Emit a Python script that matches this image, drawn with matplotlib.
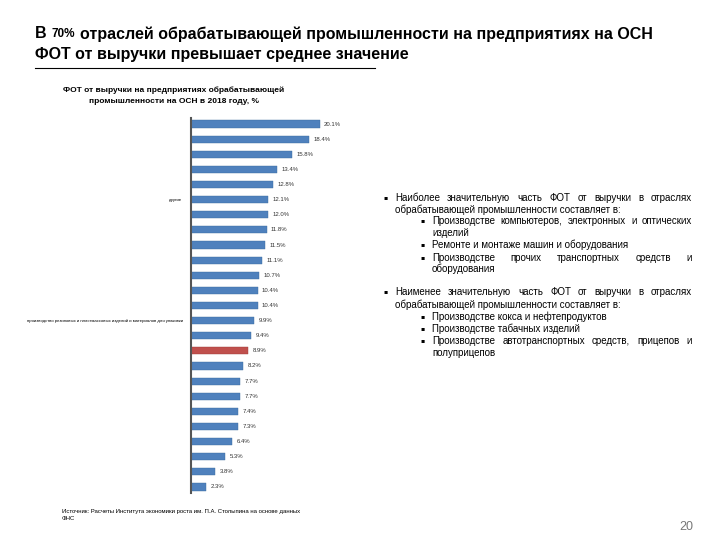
import matplotlib
matplotlib.use("Agg")
import matplotlib.pyplot as plt

# данные
znach = [20.1, 18.4, 15.8, 13.4, 12.8, 12.1, 12.0, 11.8, 11.5, 11.1, 10.7, 10.4,
         10.4, 9.9, 9.4, 8.9, 8.2, 7.7, 7.7, 7.4, 7.3, 6.4, 5.3, 3.8, 2.3]
podpisi = ["%.1f%%" % v for v in znach]
sredn_idx = 15  # среднее значение (красный столбец)
kateg_metki = {5: "другие",
               13: "производство резиновых и пластмассовых изделий и материалов для упаковки"}

plt.rcParams['font.family'] = ['Liberation Sans', 'DejaVu Sans']

fig = plt.figure(figsize=(7.2, 5.4), dpi=100)
fig.canvas.draw()
rend = fig.canvas.get_renderer()

# заголовок слайда
x = 35
for kusok, fs in [("В", 11.5), ("70%", 8.5),
                  ("отраслей обрабатывающей промышленности на предприятиях на ОСН", 11.5)]:
    t = fig.text(x / 720, 1 - 34 / 540, kusok, fontsize=fs, fontweight='bold',
                 va='center', ha='left')
    x += t.get_window_extent(rend).width + 5
fig.text(35 / 720, 1 - 54 / 540, "ФОТ от выручки превышает среднее значение",
         fontsize=11.5, fontweight='bold', va='center', ha='left')
fig.add_artist(plt.Line2D([35 / 720, 375 / 720], [1 - 68 / 540, 1 - 68 / 540],
                          color='black', lw=0.8))

# заголовок диаграммы
fig.text(174 / 720, 1 - 96 / 540,
         "ФОТ от выручки на предприятиях обрабатывающей\nпромышленности на ОСН в 2018 году, %",
         fontsize=6.0, fontweight='bold', ha='center', va='center', linespacing=1.8)

ax = fig.add_axes([191 / 720, 1 - 493 / 540, 160 / 720, 375 / 540])
cvet = ['#4F81BD'] * len(znach)
cvet[sredn_idx] = '#C0504D'
pos = list(range(len(znach)))
ax.barh(pos, znach, height=0.47, color=cvet, edgecolor='#3A6A9E', linewidth=0.3)
ax.patches[sredn_idx].set_edgecolor('#9E3B38')
for p, v, t in zip(pos, znach, podpisi):
    ax.text(v + 0.7, p, t, fontsize=4.3, va='center', ha='left', color='#333333')
ax.set_xlim(0, 25)
ax.set_ylim(24.4, -0.4)
ax.set_xticks([])
ax.set_yticks(list(kateg_metki.keys()))
ax.set_yticklabels(list(kateg_metki.values()), fontsize=3.1)
ax.tick_params(axis='y', length=0, pad=6)
for s in ['top', 'right', 'bottom']:
    ax.spines[s].set_visible(False)
ax.spines['left'].set_color('#555555')
ax.spines['left'].set_linewidth(1.5)

# текст справа (выравнивание по ширине)
stroki = [
    (198, 383, 395, "Наиболее значительную часть ФОТ от выручки в отраслях", True, True),
    (210, 395, 395, "обрабатывающей промышленности составляет в:", False, False),
    (221, 420, 432, "Производстве компьютеров, электронных и оптических", True, True),
    (233, 432, 432, "изделий", False, False),
    (245, 420, 432, "Ремонте и монтаже машин и оборудования", True, False),
    (258, 420, 432, "Производстве прочих транспортных средств и", True, True),
    (269, 432, 432, "оборудования", False, False),
    (292, 383, 395, "Наименее значительную часть ФОТ от выручки в отраслях", True, True),
    (305, 395, 395, "обрабатывающей промышленности составляет в:", False, False),
    (317, 420, 432, "Производстве кокса и нефтепродуктов", True, False),
    (329, 420, 432, "Производстве табачных изделий", True, False),
    (341, 420, 432, "Производстве автотранспортных средств, прицепов и", True, True),
    (353, 432, 432, "полуприцепов", False, False),
]
prav = 692
for y, xb, xt, txt, bullet, just in stroki:
    yf = 1 - y / 540
    if bullet:
        fig.text(xb / 720, yf, "▪", fontsize=4.5, va='center', ha='left',
                 family=['DejaVu Sans'])
    if not just:
        fig.text(xt / 720, yf, txt, fontsize=7.0, va='center', ha='left')
        continue
    slova = txt.split()
    objs = [fig.text(0, yf, w, fontsize=7.0, va='center', ha='left') for w in slova]
    shir = [o.get_window_extent(rend).width for o in objs]
    gap = (prav - xt - sum(shir)) / (len(slova) - 1)
    x = xt
    for o, w in zip(objs, shir):
        o.set_x(x / 720)
        x += w + gap

# источник
fig.text(62 / 720, 1 - 515 / 540,
         "Источник: Расчеты Института экономики роста им. П.А. Столыпина на основе данных\nФНС",
         fontsize=4.3, va='center', ha='left', linespacing=1.7)

fig.text(686 / 720, 1 - 527 / 540, "20", fontsize=9, color='#777777', ha='center', va='center')

fig.savefig("out.png", dpi=100)
